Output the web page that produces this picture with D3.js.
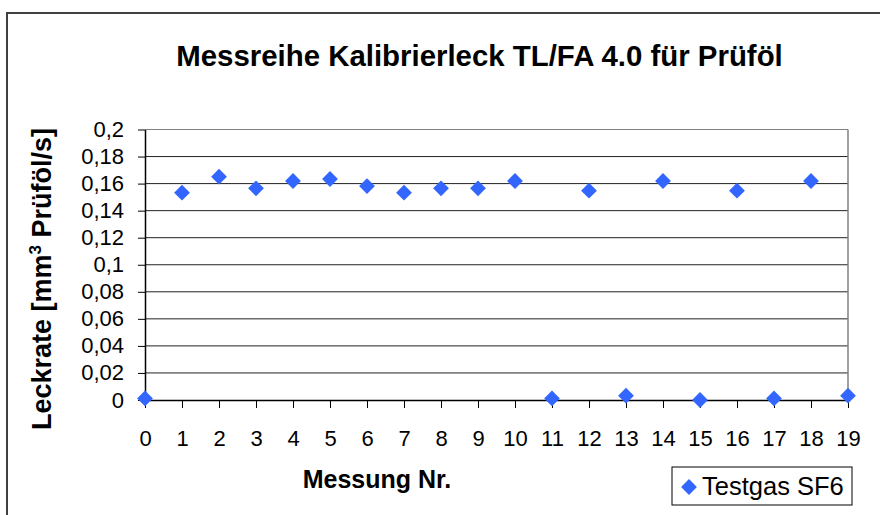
<!DOCTYPE html>
<html>
<head>
<meta charset="utf-8">
<script src="https://cdn.jsdelivr.net/npm/d3@7"></script>
<style>
  body { margin: 0; background: #fff; }
  text { font-family: "Liberation Sans", Arial, sans-serif; }
</style>
</head>
<body>
<div id="vis"></div>
<script>
// data
const measurement = [0, 1, 2, 3, 4, 5, 6, 7, 8, 9, 10, 11, 12, 13, 14, 15, 16, 17, 18, 19];
const leakRate = [0.0012, 0.1533, 0.1651, 0.1565, 0.1619, 0.1634, 0.1582, 0.1533, 0.1565, 0.1565,
                  0.1619, 0.0012, 0.1548, 0.0032, 0.1619, 0.0000, 0.1548, 0.0012, 0.1619, 0.0032];
const yTicks = [0, 0.02, 0.04, 0.06, 0.08, 0.1, 0.12, 0.14, 0.16, 0.18, 0.2];
const seriesName = "Testgas SF6";
const title = "Messreihe Kalibrierleck TL/FA 4.0 für Prüföl";
const xTitle = "Messung Nr.";

const W = 880, H = 515;
const plotL = 145, plotR = 848, plotT = 129.5, plotB = 400;
const blue = "#3366ff";

const svg = d3.select("#vis")
  .append("svg")
    .attr("width", W)
    .attr("height", H);

// outer chart frame (runs off the right and bottom edge)
svg.append("rect")
  .attr("x", 7).attr("y", 13)
  .attr("width", 900).attr("height", 600)
  .attr("fill", "#fff")
  .attr("stroke", "#404040")
  .attr("stroke-width", 2);

const x = d3.scaleLinear().domain([0, 19]).range([plotL, plotR]);
const y = d3.scaleLinear().domain([0, 0.2]).range([plotB, plotT]);

const fmt = v => d3.format(".2~f")(v).replace(".", ",");

// gridlines
svg.append("g")
  .selectAll("line")
  .data(yTicks.filter(d => d > 0))
  .enter()
  .append("line")
    .attr("x1", plotL).attr("x2", plotR)
    .attr("y1", d => y(d)).attr("y2", d => y(d))
    .attr("stroke", d => d === 0.2 ? "#808080" : "#222")
    .attr("stroke-width", 1);

// right border of plot area
svg.append("line")
  .attr("x1", plotR).attr("x2", plotR)
  .attr("y1", plotT).attr("y2", plotB)
  .attr("stroke", "#808080")
  .attr("stroke-width", 1.5);

const xAxis = d3.axisBottom(x)
  .tickValues(measurement)
  .tickFormat(d3.format("d"))
  .tickSize(8)
  .tickSizeOuter(0)
  .tickPadding(22);

const yAxis = d3.axisLeft(y)
  .tickValues(yTicks)
  .tickFormat(fmt)
  .tickSize(7)
  .tickSizeOuter(0)
  .tickPadding(14);

const gx = svg.append("g")
  .attr("transform", `translate(0, ${plotB})`)
  .call(xAxis);

const gy = svg.append("g")
  .attr("transform", `translate(${plotL}, 0)`)
  .call(yAxis);

[gx, gy].forEach(g => {
  g.select(".domain").attr("stroke", "#000").attr("stroke-width", 1.5);
  g.selectAll(".tick line").attr("stroke", "#000");
  g.selectAll(".tick text")
    .attr("fill", "#000")
    .style("font-size", "22px")
    .style("font-family", '"Liberation Sans", Arial, sans-serif');
});

// points
const diamond = d3.symbol().type(d3.symbolSquare).size(125);

svg.append("g")
  .selectAll("path")
  .data(measurement)
  .enter()
  .append("path")
    .attr("d", diamond)
    .attr("transform", (d, i) => `translate(${x(d)}, ${y(leakRate[i])}) rotate(45)`)
    .attr("fill", blue);

// titles
svg.append("text")
  .attr("x", 479.5).attr("y", 66)
  .attr("text-anchor", "middle")
  .style("font-size", "29.4px")
  .style("font-weight", "bold")
  .text(title);

svg.append("text")
  .attr("x", 377).attr("y", 488)
  .attr("text-anchor", "middle")
  .style("font-size", "25px")
  .style("font-weight", "bold")
  .text(xTitle);

const yLabel = svg.append("text")
  .attr("transform", "translate(51, 279) rotate(-90)")
  .attr("text-anchor", "middle")
  .style("font-size", "27px")
  .style("font-weight", "bold");
yLabel.append("tspan").text("Leckrate [mm");
yLabel.append("tspan").attr("dy", -10).style("font-size", "17px").text("3");
yLabel.append("tspan").attr("dy", 10).text(" Prüföl/s]");

// legend
const legend = svg.append("g").attr("transform", "translate(672, 467)");
legend.append("rect")
  .attr("width", 180).attr("height", 38)
  .attr("fill", "#fff")
  .attr("stroke", "#000")
  .attr("stroke-width", 1);
legend.append("path")
  .attr("d", diamond)
  .attr("transform", "translate(17, 20) rotate(45)")
  .attr("fill", blue);
legend.append("text")
  .attr("x", 30).attr("y", 28)
  .style("font-size", "25.5px")
  .text(seriesName);
</script>
</body>
</html>
